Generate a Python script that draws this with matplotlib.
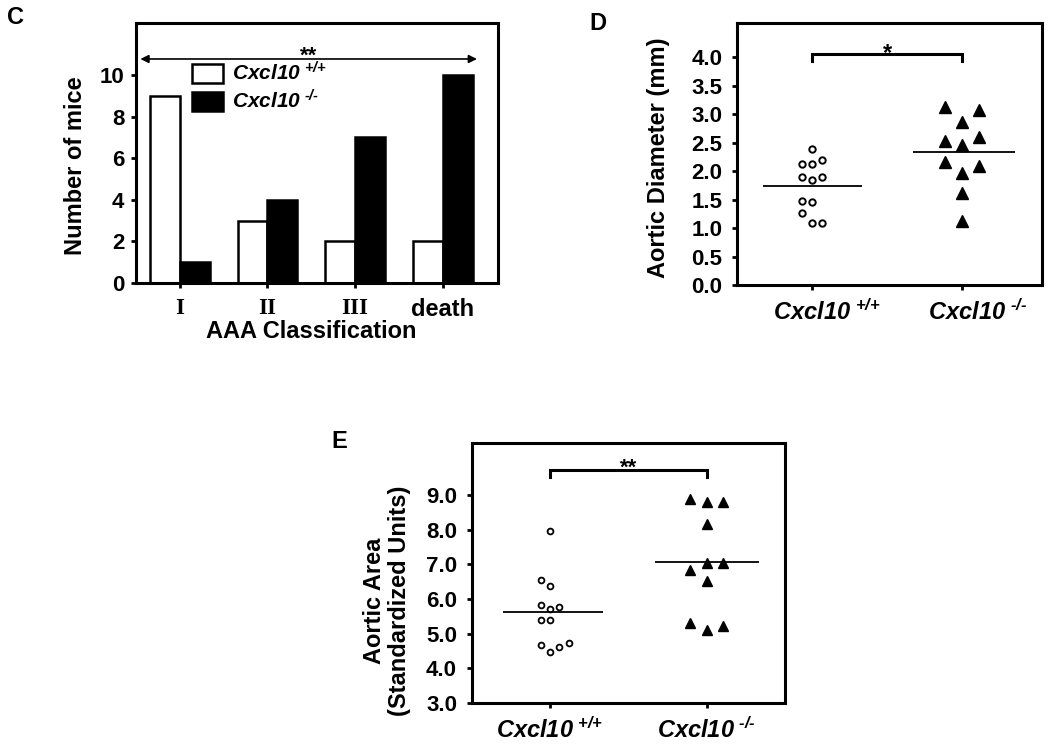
import numpy as np
import matplotlib
matplotlib.use("Agg")
import matplotlib.pyplot as plt

plt.rcParams['font.family'] = ['Liberation Sans', 'DejaVu Sans']
plt.rcParams['font.weight'] = 'bold'
plt.rcParams['mathtext.fontset'] = 'custom'
plt.rcParams['mathtext.rm'] = 'Liberation Sans:italic:bold'
plt.rcParams['mathtext.it'] = 'Liberation Sans:italic:bold'
plt.rcParams['mathtext.bf'] = 'Liberation Sans:italic:bold'

# ---------------- data ----------------
categories_c = ['I', 'II', 'III', 'death']
wt_counts = [9, 3, 2, 2]
ko_counts = [1, 4, 7, 10]

genotypes = ['+/+', '-/-']
gene = 'Cxcl10'

diam_wt = [2.38, 2.13, 2.13, 2.20, 1.89, 1.84, 1.89, 1.47, 1.46, 1.27, 1.09, 1.09]
diam_ko = [3.12, 3.07, 2.87, 2.52, 2.46, 2.59, 2.16, 2.09, 1.97, 1.61, 1.13]

area_wt = [7.96, 6.54, 6.37, 5.82, 5.72, 5.76, 5.39, 5.39, 4.66, 4.47, 4.61, 4.73]
area_ko = [8.88, 8.81, 8.81, 8.18, 6.83, 7.05, 7.05, 6.53, 5.31, 5.10, 5.22]

# horizontal scatter-column layout (dot-plot arrangement)
diam_wt_col = [0, -1, 0, 1, -1, 0, 1, -1, 0, -1, 0, 1]
diam_ko_col = [-1, 1, 0, -1, 0, 1, -1, 1, 0, 0, 0]
area_wt_col = [0, -1, 0, -1, 0, 1, -1, 0, -1, 0, 1, 2]
area_ko_col = [-1, 0, 1, 0, -1, 0, 1, 0, -1, 0, 1]


def geno_label(g, lead=0.0):
    pre = r'\hspace{%.2f}' % lead if lead else ''
    return r'$%s\mathrm{%s}^{\hspace{0.35}\text{%s}}$' % (pre, gene, g)


W, H = 1050, 751
fig = plt.figure(figsize=(W / 100, H / 100), dpi=100)


def ax_at(l, t, r, b):
    return fig.add_axes([l / W, 1 - b / H, (r - l) / W, (b - t) / H])


def style(ax, fs=16):
    for s in ax.spines.values():
        s.set_linewidth(2.2)
    ax.tick_params(direction='out', length=3.5, width=2, labelsize=fs)
    for lab in ax.get_yticklabels():
        lab.set_fontweight('bold')


# ---------------- panel C ----------------
axc = ax_at(136, 23, 498, 283)
x = np.arange(len(categories_c))
bw = 0.342
axc.bar(x - bw / 2, wt_counts, bw, color='white', edgecolor='black', linewidth=1.8,
        label=geno_label(genotypes[0]), zorder=2)
axc.bar(x + bw / 2, ko_counts, bw, color='black', edgecolor='black', linewidth=1.8,
        label=geno_label(genotypes[1]), zorder=2)
axc.set_xlim(-0.5, 3.63)
axc.set_ylim(0, 12.5)
axc.set_yticks(range(0, 11, 2))
axc.set_xticks(x)
axc.set_xticklabels(categories_c)
style(axc)
axc.tick_params(axis='x', pad=7)
axc.tick_params(axis='y', pad=5)
for lab in axc.get_xticklabels():
    if lab.get_text() == 'death':
        lab.set_fontfamily('Liberation Sans')
        lab.set_fontsize(17)
    else:
        lab.set_fontfamily('Liberation Serif')
        lab.set_fontsize(16.5)
    lab.set_fontweight('bold')
axc.set_ylabel('Number of mice', fontsize=17, fontweight='bold', va='center')
axc.yaxis.set_label_coords(-0.168, 0.45)
axc.set_xlabel('AAA Classification', fontsize=17, fontweight='bold', va='center')
axc.xaxis.set_label_coords(0.483, -0.185)
axc.annotate('', xy=(-0.45, 10.77), xytext=(3.39, 10.77),
             arrowprops=dict(arrowstyle='<|-|>', color='black', lw=1.2,
                             mutation_scale=12, shrinkA=0, shrinkB=0))
axc.text(1.47, 10.63, '**', ha='center', va='baseline', fontsize=16, fontweight='bold')
leg = axc.legend(loc='upper left', bbox_to_anchor=(0.155, 0.853), frameon=False,
                 fontsize=15, handlelength=1.5, handleheight=1.0,
                 handletextpad=0.4, labelspacing=0.25, borderaxespad=0, borderpad=0)

# ---------------- panel D ----------------
axd = ax_at(737, 23, 1042, 285)
sp_wt, sp_ko = 0.068, 0.113
axd.plot(0 + sp_wt * np.array(diam_wt_col), diam_wt, 'o', ms=4.6, mfc='white',
         mec='black', mew=1.4, ls='none')
axd.plot(1 + sp_ko * np.array(diam_ko_col), diam_ko, '^', ms=8, mfc='black',
         mec='black', ls='none')
axd.hlines(np.mean(diam_wt), -0.33, 0.33, color='black', lw=1.3)
axd.hlines(np.mean(diam_ko), 0.67, 1.35, color='black', lw=1.3)
axd.plot([0, 0, 1, 1], [3.93, 4.06, 4.06, 3.93], color='black', lw=2.2,
         solid_joinstyle='miter')
axd.text(0.5, 3.945, '*', ha='center', va='baseline', fontsize=17, fontweight='bold')
axd.set_xlim(-0.5, 1.53)
axd.set_ylim(0, 4.6)
axd.set_yticks(np.arange(0, 4.01, 0.5))
axd.set_yticklabels([f'{v:.1f}' for v in np.arange(0, 4.01, 0.5)])
axd.set_xticks([0, 1])
axd.set_xticklabels([geno_label(g, lead=1.45) for g in genotypes])
style(axd)
axd.tick_params(axis='x', pad=7, labelsize=17)
axd.tick_params(axis='y', pad=7)
axd.set_ylabel('Aortic Diameter (mm)', fontsize=17, fontweight='bold', va='center')
axd.yaxis.set_label_coords(-0.259, 0.485)

# ---------------- panel E ----------------
axe = ax_at(471.7, 443.3, 785, 702.7)
sp_wt_e, sp_ko_e = 0.06, 0.105
axe.plot(0 + sp_wt_e * np.array(area_wt_col), area_wt, 'o', ms=4.2, mfc='white',
         mec='black', mew=1.3, ls='none')
axe.plot(1 + sp_ko_e * np.array(area_ko_col), area_ko, '^', ms=7.5, mfc='black',
         mec='black', ls='none')
axe.hlines(np.mean(area_wt), -0.3, 0.335, color='black', lw=1.3)
axe.hlines(np.mean(area_ko), 0.67, 1.333, color='black', lw=1.3)
axe.plot([0, 0, 1, 1], [9.53, 9.72, 9.72, 9.53], color='black', lw=2.2,
         solid_joinstyle='miter')
axe.text(0.5, 9.63, '**', ha='center', va='baseline', fontsize=16, fontweight='bold')
axe.set_xlim(-0.5, 1.5)
axe.set_ylim(3, 10.5)
axe.set_yticks(np.arange(3, 9.01, 1))
axe.set_yticklabels([f'{v:.1f}' for v in np.arange(3, 9.01, 1)])
axe.set_xticks([0, 1])
axe.set_xticklabels([geno_label(g) for g in genotypes])
style(axe)
axe.tick_params(axis='x', pad=7, labelsize=17)
axe.tick_params(axis='y', pad=7)
axe.set_ylabel('Aortic Area\n(Standardized Units)', fontsize=17, fontweight='bold',
               va='center', linespacing=1.1)
axe.yaxis.set_label_coords(-0.271, 0.392)

# panel letters
fig.text(16 / W, 1 - 17 / H, 'C', fontsize=17, fontweight='bold', ha='center', va='center')
fig.text(598 / W, 1 - 23 / H, 'D', fontsize=17, fontweight='bold', ha='center', va='center')
fig.text(339 / W, 1 - 442 / H, 'E', fontsize=17, fontweight='bold', ha='center', va='center')

fig.savefig('out.png', dpi=100)
